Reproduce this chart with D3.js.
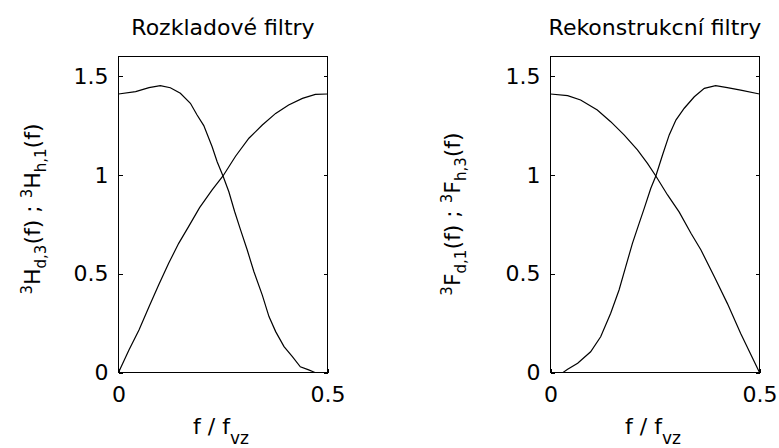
<html>
<head>
<meta charset="UTF-8">
<title>Rozkladové a rekonstrukcní filtry</title>
<style>
  body { margin: 0; background: #fff; }
  text { font-family: "DejaVu Sans", sans-serif; fill: #000; }
  .curve { fill: none; stroke: #000; stroke-width: 1.2; }
  .box { fill: none; stroke: #000; stroke-width: 1; shape-rendering: crispEdges; }
</style>
</head>
<body>
<script src="https://cdnjs.cloudflare.com/ajax/libs/d3/7.8.5/d3.min.js"></script>
<script>
// values, f = f / f_vz
var fHd3 = [0, 0.041, 0.073, 0.1, 0.124, 0.148, 0.172, 0.188, 0.204, 0.224, 0.236, 0.25, 0.264, 0.278, 0.292, 0.308, 0.324, 0.344, 0.36, 0.376, 0.396, 0.416, 0.435, 0.455, 0.47, 0.5];
var hd3  = [1.41, 1.422, 1.442, 1.452, 1.442, 1.414, 1.363, 1.304, 1.25, 1.143, 1.067, 0.995, 0.915, 0.814, 0.722, 0.62, 0.51, 0.392, 0.283, 0.207, 0.131, 0.08, 0.029, 0.013, 0, 0];

var fHh1 = [0, 0.025, 0.049, 0.073, 0.096, 0.12, 0.144, 0.168, 0.194, 0.224, 0.25, 0.28, 0.312, 0.344, 0.376, 0.407, 0.44, 0.471, 0.5];
var hh1  = [0, 0.114, 0.215, 0.333, 0.443, 0.553, 0.654, 0.74, 0.835, 0.925, 0.995, 1.095, 1.186, 1.253, 1.312, 1.354, 1.388, 1.408, 1.41];

var fFd1 = [0, 0.041, 0.072, 0.112, 0.144, 0.176, 0.208, 0.232, 0.252, 0.28, 0.308, 0.336, 0.36, 0.392, 0.423, 0.455, 0.5];
var fd1  = [1.41, 1.402, 1.38, 1.329, 1.27, 1.203, 1.127, 1.059, 0.995, 0.899, 0.812, 0.705, 0.62, 0.485, 0.35, 0.198, 0];

var fFh3 = [0, 0.03, 0.041, 0.065, 0.096, 0.12, 0.144, 0.164, 0.18, 0.196, 0.212, 0.224, 0.24, 0.252, 0.268, 0.284, 0.3, 0.32, 0.344, 0.368, 0.395, 0.423, 0.455, 0.5];
var fh3  = [0, 0, 0.016, 0.047, 0.105, 0.181, 0.3, 0.418, 0.536, 0.654, 0.755, 0.83, 0.933, 0.995, 1.101, 1.203, 1.278, 1.338, 1.396, 1.439, 1.452, 1.442, 1.43, 1.41];

var yTicks = [0, 0.5, 1, 1.5];
var xTicks = [0, 0.5];

var W = 779, H = 448;
var svg = d3.select("body").append("svg")
	.attr("width", W)
	.attr("height", H);

svg.append("rect").attr("width", W).attr("height", H).attr("fill", "#fff");

// pieces of a label: t = text, s = "sup" / "sub" / undefined
function richText(sel, parts, size, small) {
	var shift = 0;
	parts.forEach(function(p) {
		var target = p.s == "sup" ? -8 : p.s == "sub" ? 6 : 0;
		sel.append("tspan")
			.attr("dy", target - shift)
			.style("font-size", (p.s ? small : size) + "px")
			.text(p.t);
		shift = target;
	});
}

function panel(o) {
	var x = d3.scaleLinear().domain([0, 0.5]).range([o.left + 0.5, o.left + 209.5]);
	var y = d3.scaleLinear().domain([0, 1.6]).range([372.5, 56.5]);

	var g = svg.append("g");

	g.append("rect").attr("class", "box")
		.attr("x", x(0)).attr("y", y(1.6))
		.attr("width", x(0.5) - x(0)).attr("height", y(0) - y(1.6));

	var ax = g.append("g")
		.attr("transform", "translate(" + x(0) + ",0)")
		.call(d3.axisLeft(y).tickValues(yTicks).tickSizeInner(-4).tickSizeOuter(0).tickPadding(10)
			.tickFormat(function(d) { return String(d); }));
	var ax2 = g.append("g")
		.attr("transform", "translate(" + x(0.5) + ",0)")
		.call(d3.axisRight(y).tickValues(yTicks).tickSizeInner(-4).tickSizeOuter(0).tickFormat(""));
	var ax3 = g.append("g")
		.attr("transform", "translate(0," + y(0) + ")")
		.call(d3.axisBottom(x).tickValues(xTicks).tickSizeInner(-4).tickSizeOuter(0).tickPadding(14)
			.tickFormat(function(d) { return String(d); }));
	[ax, ax2, ax3].forEach(function(a) {
		a.select(".domain").remove();
		a.selectAll("line").attr("stroke", "#000").attr("shape-rendering", "crispEdges");
		a.selectAll("text").attr("font-family", "DejaVu Sans, sans-serif").attr("font-size", 22).attr("fill", "#000");
	});

	var line = d3.line()
		.x(function(d) { return x(d[0]); })
		.y(function(d) { return y(d[1]); });

	o.series.forEach(function(s) {
		g.append("path").attr("class", "curve")
			.attr("d", line(d3.zip(s[0], s[1])));
	});

	g.append("text")
		.attr("x", (x(0) + x(0.5)) / 2)
		.attr("y", 35)
		.attr("text-anchor", "middle")
		.style("font-size", "22px")
		.text(o.title);

	var xl = g.append("text")
		.attr("x", (x(0) + x(0.5)) / 2 - 2)
		.attr("y", 434)
		.attr("text-anchor", "middle");
	richText(xl, [{t: "f / f"}, {t: "vz", s: "sub"}], 22, 17);
	xl.select("tspan:last-child").attr("dy", 10);

	var yl = g.append("text")
		.attr("transform", "translate(" + o.labelX + "," + o.labelY + ") rotate(-90)")
		.attr("text-anchor", "middle");
	richText(yl, o.ylabel, 22, 15);
}

panel({
	left: 118,
	title: "Rozkladové filtry",
	labelX: 40, labelY: 209,
	ylabel: [{t: "3", s: "sup"}, {t: "H"}, {t: "d,3", s: "sub"}, {t: "(f) ; "},
		{t: "3", s: "sup"}, {t: "H"}, {t: "h,1", s: "sub"}, {t: "(f)"}],
	series: [[fHd3, hd3], [fHh1, hh1]]
});

panel({
	left: 550,
	title: "Rekonstrukcní filtry",
	labelX: 460, labelY: 214,
	ylabel: [{t: "3", s: "sup"}, {t: "F"}, {t: "d,1", s: "sub"}, {t: "(f) ; "},
		{t: "3", s: "sup"}, {t: "F"}, {t: "h,3", s: "sub"}, {t: "(f)"}],
	series: [[fFd1, fd1], [fFh3, fh3]]
});
</script>
</body>
</html>
